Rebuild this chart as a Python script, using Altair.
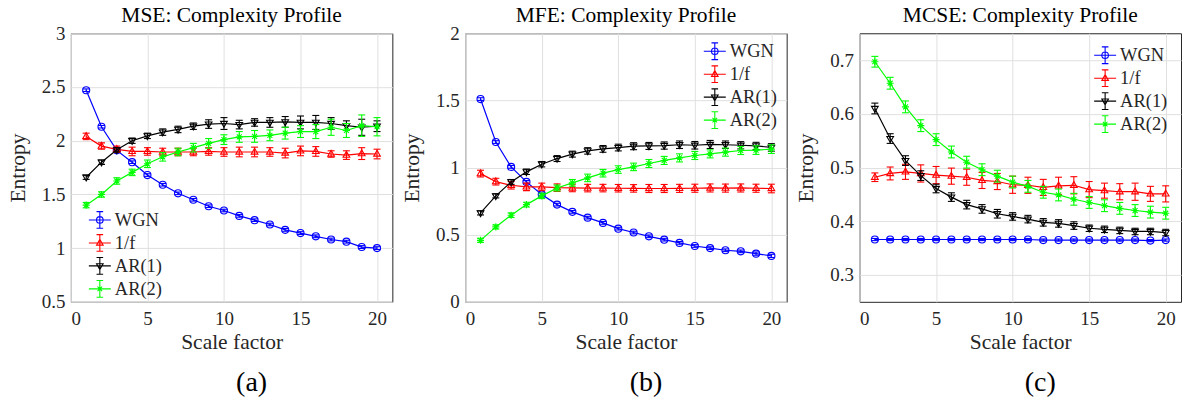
import altair as alt
import pandas as pd

FONT = "Liberation Serif, Times New Roman, DejaVu Serif, serif"
TXT = "#262626"

scale_factors = list(range(1, 21))
series = ["WGN", "1/f", "AR(1)", "AR(2)"]
colors = ["#0000ff", "#ff0000", "#000000", "#00ff00"]

# ---- (a) MSE ----
mse_wgn = [2.47, 2.13, 1.91, 1.80, 1.68, 1.59, 1.51, 1.45, 1.39, 1.35, 1.30, 1.26, 1.22, 1.17, 1.14, 1.11, 1.08, 1.06, 1.01, 1.00]
mse_wgn_err = [0.012, 0.012, 0.012, 0.012, 0.012, 0.012, 0.012, 0.012, 0.012, 0.012, 0.012, 0.012, 0.012, 0.013, 0.013, 0.013, 0.013, 0.013, 0.013, 0.013]
mse_1f = [2.04, 1.95, 1.92, 1.90, 1.90, 1.895, 1.895, 1.895, 1.90, 1.895, 1.895, 1.895, 1.895, 1.885, 1.905, 1.90, 1.876, 1.866, 1.88, 1.876]
mse_1f_err = [0.03, 0.03, 0.03, 0.04, 0.035, 0.035, 0.035, 0.035, 0.035, 0.04, 0.045, 0.045, 0.04, 0.045, 0.045, 0.045, 0.03, 0.04, 0.055, 0.045]
mse_ar1 = [1.66, 1.80, 1.915, 2.00, 2.045, 2.08, 2.105, 2.135, 2.155, 2.16, 2.15, 2.17, 2.17, 2.175, 2.17, 2.17, 2.16, 2.14, 2.125, 2.135]
mse_ar1_err = [0.02, 0.02, 0.02, 0.025, 0.025, 0.03, 0.03, 0.03, 0.04, 0.055, 0.04, 0.035, 0.045, 0.05, 0.06, 0.065, 0.055, 0.045, 0.075, 0.05]
mse_ar2 = [1.40, 1.50, 1.625, 1.705, 1.785, 1.85, 1.895, 1.935, 1.975, 2.01, 2.035, 2.04, 2.05, 2.07, 2.085, 2.085, 2.125, 2.095, 2.14, 2.13]
mse_ar2_err = [0.025, 0.025, 0.03, 0.03, 0.035, 0.04, 0.035, 0.04, 0.045, 0.045, 0.05, 0.055, 0.05, 0.055, 0.055, 0.065, 0.075, 0.065, 0.10, 0.085]

# ---- (b) MFE ----
mfe_wgn = [1.51, 1.19, 1.005, 0.893, 0.80, 0.724, 0.67, 0.627, 0.588, 0.545, 0.516, 0.488, 0.463, 0.439, 0.416, 0.40, 0.384, 0.376, 0.359, 0.342]
mfe_wgn_err = [0.01, 0.01, 0.01, 0.01, 0.01, 0.01, 0.01, 0.01, 0.01, 0.01, 0.01, 0.01, 0.01, 0.01, 0.01, 0.01, 0.01, 0.01, 0.012, 0.012]
mfe_1f = [0.955, 0.895, 0.868, 0.856, 0.856, 0.85, 0.848, 0.847, 0.847, 0.846, 0.845, 0.844, 0.844, 0.845, 0.846, 0.848, 0.847, 0.848, 0.846, 0.844]
mfe_1f_err = [0.025, 0.025, 0.028, 0.028, 0.028, 0.028, 0.028, 0.028, 0.028, 0.028, 0.028, 0.03, 0.03, 0.03, 0.03, 0.03, 0.03, 0.03, 0.03, 0.032]
mfe_ar1 = [0.662, 0.789, 0.893, 0.968, 1.025, 1.067, 1.10, 1.124, 1.139, 1.149, 1.159, 1.161, 1.164, 1.17, 1.166, 1.172, 1.17, 1.166, 1.161, 1.15]
mfe_ar1_err = [0.015, 0.015, 0.018, 0.02, 0.02, 0.022, 0.022, 0.024, 0.025, 0.025, 0.026, 0.026, 0.027, 0.028, 0.028, 0.03, 0.028, 0.027, 0.027, 0.028]
mfe_ar2 = [0.458, 0.558, 0.645, 0.724, 0.789, 0.848, 0.886, 0.923, 0.958, 0.985, 1.005, 1.03, 1.053, 1.072, 1.09, 1.102, 1.115, 1.127, 1.13, 1.137]
mfe_ar2_err = [0.015, 0.015, 0.017, 0.018, 0.02, 0.022, 0.025, 0.028, 0.028, 0.028, 0.028, 0.03, 0.03, 0.03, 0.03, 0.03, 0.03, 0.03, 0.032, 0.032]

# ---- (c) MCSE ----
mcse_wgn = [0.366, 0.366, 0.366, 0.366, 0.366, 0.366, 0.366, 0.366, 0.366, 0.366, 0.366, 0.365, 0.365, 0.365, 0.365, 0.365, 0.365, 0.365, 0.364, 0.365]
mcse_wgn_err = [0.002, 0.002, 0.002, 0.002, 0.002, 0.002, 0.002, 0.002, 0.002, 0.002, 0.002, 0.002, 0.002, 0.002, 0.002, 0.002, 0.002, 0.002, 0.002, 0.002]
mcse_1f = [0.482, 0.489, 0.492, 0.489, 0.486, 0.484, 0.482, 0.476, 0.474, 0.468, 0.467, 0.463, 0.466, 0.467, 0.459, 0.457, 0.455, 0.455, 0.451, 0.451]
mcse_1f_err = [0.008, 0.012, 0.014, 0.016, 0.016, 0.015, 0.015, 0.015, 0.015, 0.016, 0.015, 0.015, 0.016, 0.016, 0.015, 0.014, 0.015, 0.016, 0.014, 0.015]
mcse_ar1 = [0.610, 0.554, 0.513, 0.485, 0.461, 0.445, 0.431, 0.423, 0.414, 0.409, 0.404, 0.398, 0.396, 0.392, 0.387, 0.385, 0.383, 0.381, 0.381, 0.379]
mcse_ar1_err = [0.010, 0.009, 0.009, 0.009, 0.008, 0.008, 0.008, 0.008, 0.008, 0.007, 0.007, 0.007, 0.007, 0.007, 0.006, 0.006, 0.006, 0.006, 0.006, 0.006]
mcse_ar2 = [0.697, 0.657, 0.613, 0.578, 0.552, 0.529, 0.510, 0.496, 0.484, 0.473, 0.465, 0.454, 0.449, 0.441, 0.435, 0.429, 0.424, 0.420, 0.417, 0.415]
mcse_ar2_err = [0.010, 0.011, 0.011, 0.011, 0.011, 0.011, 0.011, 0.011, 0.011, 0.011, 0.011, 0.011, 0.011, 0.011, 0.011, 0.011, 0.011, 0.011, 0.011, 0.011]

# marker shapes (unit paths) and legend glyphs (line + errorbar + marker)
marker_paths = [
    "M-1,0A1,1 0 1,1 1,0A1,1 0 1,1 -1,0Z",
    "M0,-1.05L0.95,0.6L-0.95,0.6Z",
    "M0,1.05L0.95,-0.6L-0.95,-0.6Z",
    "M-1,0H1M0,-1V1M-0.7,-0.7L0.7,0.7M-0.7,0.7L0.7,-0.7",
]
_lg = "M-1,0H1M0,-0.76V0.76M-0.3,-0.76H0.3M-0.3,0.76H0.3"
legend_paths = [
    _lg + "M-0.3,0A0.3,0.3 0 1,1 0.3,0A0.3,0.3 0 1,1 -0.3,0Z",
    _lg + "M0,-0.33L0.3,0.2L-0.3,0.2Z",
    _lg + "M0,0.33L0.3,-0.2L-0.3,-0.2Z",
    _lg + "M-0.3,0H0.3M0,-0.3V0.3M-0.21,-0.21L0.21,0.21M-0.21,0.21L0.21,-0.21",
]

W, H = 322, 269


def panel(title, letter, vals, errs, ydomain, yticks, lx, ly):
    rows = []
    for s, v, e in zip(series, vals, errs):
        for x, vi, ei in zip(scale_factors, v, e):
            rows.append(dict(scale=x, series=s, value=vi, lo=vi - ei, hi=vi + ei))
    df = pd.DataFrame(rows)

    xaxis = alt.Axis(values=[0, 5, 10, 15, 20], title="Scale factor", format="d")
    xs = alt.Scale(domain=[0, 21], nice=False, zero=False)
    yaxis = alt.Axis(values=yticks, title="Entropy", format="~g")
    ys = alt.Scale(domain=ydomain, nice=False, zero=False)
    cs = alt.Scale(domain=series, range=colors)
    cenc = alt.Color("series:N", scale=cs, legend=None)
    X = alt.X("scale:Q", scale=xs, axis=xaxis)

    layers = []
    for s in series:
        base = alt.Chart(df).transform_filter(alt.datum.series == s)
        rule = base.mark_rule(strokeWidth=1.1).encode(
            x=X, y=alt.Y("lo:Q", scale=ys, axis=yaxis), y2="hi:Q", color=cenc)
        cap_lo = base.mark_tick(orient="horizontal", size=7, thickness=1.1, opacity=1).encode(
            x=X, y=alt.Y("lo:Q", scale=ys, axis=yaxis), color=cenc)
        cap_hi = base.mark_tick(orient="horizontal", size=7, thickness=1.1, opacity=1).encode(
            x=X, y=alt.Y("hi:Q", scale=ys, axis=yaxis), color=cenc)
        line = base.mark_line(strokeWidth=1.2).encode(
            x=X, y=alt.Y("value:Q", scale=ys, axis=yaxis), color=cenc)
        pts = base.mark_point(filled=False, opacity=1, size=50, strokeWidth=1.1).encode(
            x=X, y=alt.Y("value:Q", scale=ys, axis=yaxis), color=cenc,
            shape=alt.Shape("series:N", scale=alt.Scale(domain=series, range=marker_paths), legend=None))
        layers += [rule, cap_lo, cap_hi, line, pts]

    leg = alt.Legend(orient="none", legendX=lx, legendY=ly, title=None,
                     labelFont=FONT, labelFontSize=18.5, labelColor=TXT, labelOffset=3,
                     symbolSize=484, symbolStrokeWidth=1.1, rowPadding=0, padding=0,
                     symbolOpacity=1)
    legend_layer = alt.Chart(df).transform_filter("false").mark_point(
        filled=False, opacity=1, strokeWidth=1.1).encode(
        color=alt.Color("series:N", scale=cs, legend=leg),
        shape=alt.Shape("series:N", scale=alt.Scale(domain=series, range=legend_paths), legend=leg))

    txt = pd.DataFrame({"title": [title], "letter": [letter]})
    ttl = alt.Chart(txt).mark_text(
        font=FONT, fontSize=21.5, align="center", baseline="alphabetic", color="#000000").encode(
        text="title:N", x=alt.value(W / 2), y=alt.value(-11))
    lab = alt.Chart(txt).mark_text(
        font=FONT, fontSize=28, align="center", baseline="alphabetic", color="#000000").encode(
        text="letter:N", x=alt.value(181), y=alt.value(H + 89))

    return alt.layer(*layers, legend_layer, ttl, lab).resolve_scale(
        color="independent", shape="independent").properties(width=W, height=H)


pa = panel("MSE: Complexity Profile", "(a)",
           [mse_wgn, mse_1f, mse_ar1, mse_ar2],
           [mse_wgn_err, mse_1f_err, mse_ar1_err, mse_ar2_err],
           [0.5, 3], [0.5, 1, 1.5, 2, 2.5, 3], 17, 175)
pb = panel("MFE: Complexity Profile", "(b)",
           [mfe_wgn, mfe_1f, mfe_ar1, mfe_ar2],
           [mfe_wgn_err, mfe_1f_err, mfe_ar1_err, mfe_ar2_err],
           [0, 2], [0, 0.5, 1, 1.5, 2], 238, 6)
pc = panel("MCSE: Complexity Profile", "(c)",
           [mcse_wgn, mcse_1f, mcse_ar1, mcse_ar2],
           [mcse_wgn_err, mcse_1f_err, mcse_ar1_err, mcse_ar2_err],
           [0.25, 0.75], [0.3, 0.4, 0.5, 0.6, 0.7], 234, 10)

chart = alt.hconcat(pa, pb, pc, spacing=73, bounds="flush").resolve_scale(
    color="independent", shape="independent").properties(
    padding={"left": 6, "top": 4, "right": 2, "bottom": 2}
).configure_view(stroke="#262626", strokeWidth=1).configure_axis(
    labelFont=FONT, labelFontSize=19, labelColor=TXT,
    titleFont=FONT, titleFontSize=21.5, titleFontWeight="normal", titleColor=TXT,
    grid=True, gridColor="#e0e0e0", gridWidth=1, domain=False, ticks=False, tickSize=0,
).configure_axisX(labelPadding=8, titlePadding=3).configure_axisY(labelPadding=6, titlePadding=12)

chart.save("out.html", embed_options={"renderer": "svg", "actions": False})
